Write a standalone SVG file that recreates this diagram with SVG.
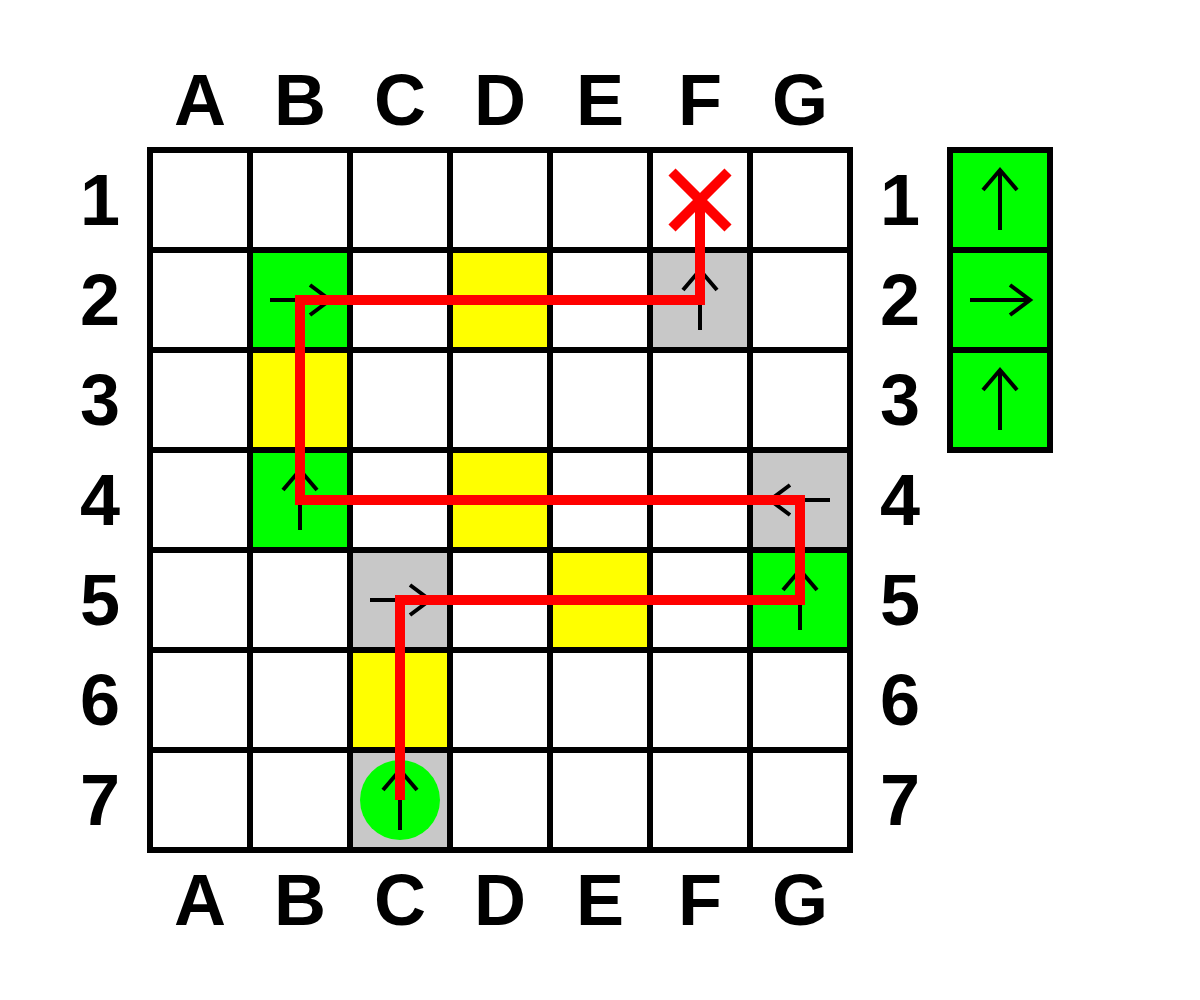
<svg xmlns="http://www.w3.org/2000/svg" width="1200" height="1000" viewBox="0 0 1200 1000">
<style>
.lbl{font-family:"Liberation Sans",Arial,sans-serif;font-weight:bold;font-size:72px;fill:#000;text-anchor:middle}
.g{fill:#00ff00}
.y{fill:#ffff00}
.s{fill:#c8c8c8}
.grid{stroke:#000;stroke-width:6;fill:none;stroke-linecap:square}
.arr{stroke:#000;stroke-width:4;fill:none}
.path{stroke:#ff0000;stroke-width:10;fill:none;stroke-linejoin:miter}
</style>
<defs>
<g id="up"><path class="arr" d="M0,30 V-30 M-17,-10 L0,-30 L17,-10"/></g>
<g id="right"><path class="arr" d="M-30,0 H30 M10,-15 L30,0 L10,15"/></g>
<g id="left"><path class="arr" d="M30,0 H-30 M-10,-15 L-30,0 L-10,15"/></g>
</defs>
<rect width="1200" height="1000" fill="#fff"/>
<g id="cells">
<rect class="g" x="250" y="250" width="100" height="100"/>
<rect class="y" x="450" y="250" width="100" height="100"/>
<rect class="s" x="650" y="250" width="100" height="100"/>
<rect class="y" x="250" y="350" width="100" height="100"/>
<rect class="g" x="250" y="450" width="100" height="100"/>
<rect class="y" x="450" y="450" width="100" height="100"/>
<rect class="s" x="750" y="450" width="100" height="100"/>
<rect class="s" x="350" y="550" width="100" height="100"/>
<rect class="y" x="550" y="550" width="100" height="100"/>
<rect class="g" x="750" y="550" width="100" height="100"/>
<rect class="y" x="350" y="650" width="100" height="100"/>
<rect class="s" x="350" y="750" width="100" height="100"/>
<circle class="g" cx="400" cy="800" r="40"/>
</g>
<g id="grid" class="grid">
<path d="M150,150 H850 M150,250 H850 M150,350 H850 M150,450 H850 M150,550 H850 M150,650 H850 M150,750 H850 M150,850 H850"/>
<path d="M150,150 V850 M250,150 V850 M350,150 V850 M450,150 V850 M550,150 V850 M650,150 V850 M750,150 V850 M850,150 V850"/>
</g>
<g id="panel">
<rect class="g" x="950" y="150" width="100" height="300"/>
<path class="grid" d="M950,150 H1050 V450 H950 Z M950,250 H1050 M950,350 H1050"/>
<use href="#up" x="1000" y="200"/>
<use href="#right" x="1000" y="300"/>
<use href="#up" x="1000" y="400"/>
</g>
<g id="arrows">
<use href="#right" x="300" y="300"/>
<use href="#up" x="700" y="300"/>
<use href="#up" x="300" y="500"/>
<use href="#left" x="800" y="500"/>
<use href="#right" x="400" y="600"/>
<use href="#up" x="800" y="600"/>
<use href="#up" x="400" y="800"/>
</g>
<g id="connectors">
<path class="path" d="M400,800 V600 H800 V500 H300 V300 H700 V200"/>
<path class="path" d="M672,172 L728,228 M728,172 L672,228"/>
</g>
<g id="labels">
<text class="lbl" x="200" y="125">A</text>
<text class="lbl" x="300" y="125">B</text>
<text class="lbl" x="400" y="125">C</text>
<text class="lbl" x="500" y="125">D</text>
<text class="lbl" x="600" y="125">E</text>
<text class="lbl" x="700" y="125">F</text>
<text class="lbl" x="800" y="125">G</text>
<text class="lbl" x="200" y="925">A</text>
<text class="lbl" x="300" y="925">B</text>
<text class="lbl" x="400" y="925">C</text>
<text class="lbl" x="500" y="925">D</text>
<text class="lbl" x="600" y="925">E</text>
<text class="lbl" x="700" y="925">F</text>
<text class="lbl" x="800" y="925">G</text>
<text class="lbl" x="100" y="225">1</text>
<text class="lbl" x="100" y="325">2</text>
<text class="lbl" x="100" y="425">3</text>
<text class="lbl" x="100" y="525">4</text>
<text class="lbl" x="100" y="625">5</text>
<text class="lbl" x="100" y="725">6</text>
<text class="lbl" x="100" y="825">7</text>
<text class="lbl" x="900" y="225">1</text>
<text class="lbl" x="900" y="325">2</text>
<text class="lbl" x="900" y="425">3</text>
<text class="lbl" x="900" y="525">4</text>
<text class="lbl" x="900" y="625">5</text>
<text class="lbl" x="900" y="725">6</text>
<text class="lbl" x="900" y="825">7</text>
</g>
</svg>
